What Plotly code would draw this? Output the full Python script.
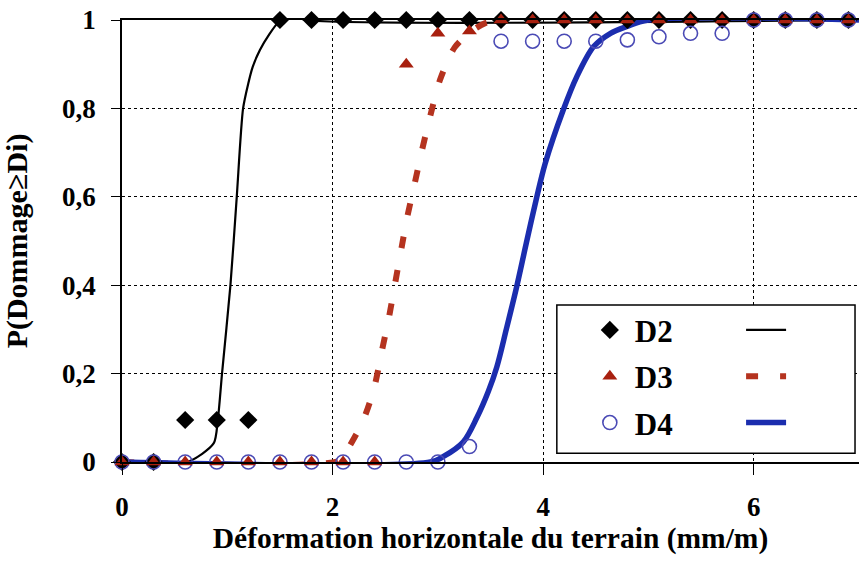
import plotly.graph_objects as go

# ---- data ----
x_points = [0.0, 0.3, 0.6, 0.9, 1.2, 1.5, 1.8, 2.1, 2.4, 2.7, 3.0, 3.3,
            3.6, 3.9, 4.2, 4.5, 4.8, 5.1, 5.4, 5.7, 6.0, 6.3, 6.6, 6.9]
d2_points = [0, 0, 0.095, 0.095, 0.095, 1, 1, 1, 1, 1, 1, 1,
             1, 1, 1, 1, 1, 1, 1, 1, 1, 1, 1, 1]
d3_points = [0, 0, 0, 0, 0, 0, 0, 0, 0, 0.9, 0.97, 0.975,
             1, 1, 1, 1, 1, 1, 1, 1, 1, 1, 1, 1]
d4_points = [0, 0, 0, 0, 0, 0, 0, 0, 0, 0, 0, 0.035,
             0.952, 0.952, 0.952, 0.952, 0.955, 0.962, 0.97, 0.97, 1, 1, 1, 1]

d2_curve_x = [0, 0.62, 0.87, 0.91, 0.95, 1.03, 1.09, 1.15, 1.20, 1.24, 1.31, 1.40, 1.49, 1.60, 1.75, 7.0]
d2_curve_y = [0, 0, 0.042, 0.095, 0.2, 0.4, 0.6, 0.8, 0.857, 0.893, 0.932, 0.968, 0.996, 1.011, 1.0, 1.0]

d3_curve_x = [0, 2.09, 2.14, 2.28, 2.39, 2.47, 2.54, 2.60, 2.66, 2.71, 2.78, 2.85,
              2.93, 3.02, 3.16, 3.31, 3.45, 3.6]
d3_curve_y = [0, 0.005, 0.027, 0.088, 0.163, 0.253, 0.333, 0.412, 0.491, 0.555, 0.63, 0.706,
              0.785, 0.864, 0.938, 0.973, 0.993, 1.0]

d4_curve_x = [0, 2.93, 3.05, 3.24, 3.37, 3.48, 3.56, 3.65, 3.75, 3.84, 3.94, 4.02,
              4.19, 4.32, 4.48, 4.64, 4.79, 5.0, 7.0]
d4_curve_y = [0, 0, 0.012, 0.045, 0.1, 0.16, 0.215, 0.3, 0.398, 0.495, 0.6, 0.676,
              0.796, 0.872, 0.94, 0.97, 0.985, 1.0, 1.0]

x_tick_vals = [0, 2, 4, 6]
y_tick_vals = [0, 0.2, 0.4, 0.6, 0.8, 1]

series_names = ["D2", "D3", "D4"]

FONT = "Times New Roman, Liberation Serif, serif"
RED_M = "#A8200F"
RED_L = "#B5331F"
BLUE_L = "#1B2DAE"
BLUE_M = "#4A4AB5"

fig = go.Figure()

# fitted curves (legend2: line samples only)
fig.add_trace(go.Scatter(x=d2_curve_x, y=d2_curve_y, mode="lines", name=" ",
                         line=dict(color="black", width=2.2, shape="spline", smoothing=0.7),
                         legend="legend2", legendgroup="l1", cliponaxis=False))
fig.add_trace(go.Scatter(x=d3_curve_x, y=d3_curve_y, mode="lines", name=" ",
                         line=dict(color=RED_L, width=6, dash="12px,22px", shape="spline", smoothing=0.8),
                         legend="legend2", legendgroup="l2", cliponaxis=False))
fig.add_trace(go.Scatter(x=d4_curve_x, y=d4_curve_y, mode="lines", name=" ",
                         line=dict(color=BLUE_L, width=5.5, shape="spline", smoothing=0.9),
                         legend="legend2", legendgroup="l3", cliponaxis=False))

# observed points
fig.add_trace(go.Scatter(x=x_points, y=d2_points, mode="markers", name=series_names[0],
                         marker=dict(symbol="diamond", size=14, color="black"),
                         legendgroup="g1", legendrank=1, cliponaxis=False))
fig.add_trace(go.Scatter(x=x_points, y=d4_points, mode="markers", name=series_names[2],
                         marker=dict(symbol="circle-open", size=14, color=BLUE_M, line=dict(width=1.6)),
                         legendgroup="g3", legendrank=3, cliponaxis=False))
fig.add_trace(go.Scatter(x=x_points, y=d3_points, mode="markers", name=series_names[1],
                         marker=dict(symbol="triangle-up", size=13, color=RED_M),
                         legendgroup="g2", legendrank=2, cliponaxis=False))

fig.update_layout(
    width=859, height=562,
    margin=dict(l=122, r=0, t=20, b=100, autoexpand=False),
    paper_bgcolor="white", plot_bgcolor="white",
    separators=", ",
    font=dict(family=FONT, color="black", size=26, weight="bold"),
    showlegend=True,
    legend=dict(x=0.628, y=0.359, xanchor="left", yanchor="top",
                bgcolor="rgba(0,0,0,0)", font=dict(size=31, family=FONT, weight="bold"),
                tracegroupgap=3, itemwidth=40),
    legend2=dict(x=0.84, y=0.359, xanchor="left", yanchor="top",
                 bgcolor="rgba(0,0,0,0)", font=dict(size=31, family=FONT, weight="bold"),
                 tracegroupgap=3, itemwidth=40),
    shapes=[dict(type="rect", xref="paper", yref="paper",
                 x0=0.590, x1=0.9946, y0=0.020, y1=0.355,
                 line=dict(color="black", width=1.5), fillcolor="white", layer="above")],
)

fig.update_xaxes(
    range=[0, 7], tickvals=x_tick_vals, automargin=False,
    showline=True, linecolor="black", linewidth=1.5, mirror=True,
    ticks="outside", ticklen=11, tickcolor="black", tickwidth=1.3,
    showgrid=True, gridcolor="black", griddash="dot", gridwidth=1,
    zeroline=False, ticklabelstandoff=9, ticklabeloverflow="allow",
    tickfont=dict(size=27, family=FONT, weight="bold"),
    title=dict(text="Déformation horizontale du terrain (mm/m)",
               font=dict(size=29.5, family=FONT, weight="bold"), standoff=5),
)
fig.update_yaxes(
    range=[0, 1], tickvals=y_tick_vals, automargin=False,
    showline=True, linecolor="black", linewidth=1.5, mirror=False,
    ticks="outside", ticklen=9, tickcolor="black", tickwidth=1.3,
    showgrid=True, gridcolor="black", griddash="dot", gridwidth=1,
    zeroline=False, ticklabelstandoff=10, ticklabeloverflow="allow",
    tickfont=dict(size=27, family=FONT, weight="bold"),
    title=dict(text="P(Dommage≥Di)", font=dict(size=30, family=FONT, weight="bold"), standoff=37),
)

fig.write_html("out.html", config={"displayModeBar": False},
               post_script="document.body.style.margin='0';")
